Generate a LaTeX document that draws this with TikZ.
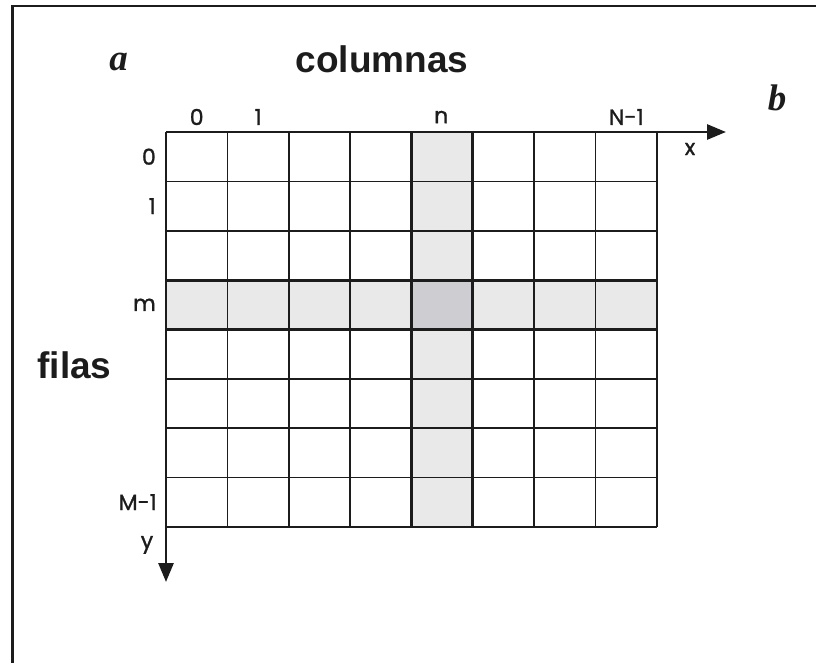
\documentclass[tikz,border=0pt]{standalone}
\usepackage{fontspec}
\setmainfont{Liberation Sans}
\newfontfamily\geofont[FakeBold=1.2]{Poppins}
\newfontfamily\itfont{Liberation Serif}
\usetikzlibrary{arrows.meta,positioning}
\definecolor{Ink}{HTML}{1C1C1C}
\definecolor{Band}{HTML}{E9E9E9}
\definecolor{Cross}{HTML}{CDCDD2}

\tikzset{
  gridline/.style={Ink, line width=1.6pt},
  boldline/.style={Ink, line width=3pt},
  axis/.style={Ink, line width=2.8pt, -{Triangle[length=19pt,width=15pt]}},
  idx/.style={font=\geofont\fontsize{22}{22}\selectfont, inner sep=0pt},
  title/.style={font=\fontsize{37}{37}\selectfont\bfseries, inner sep=0pt, anchor=base},
  tag/.style={font=\itfont\fontsize{37}{37}\selectfont\bfseries\itshape, inner sep=0pt, anchor=base}
}

\begin{document}
\begin{tikzpicture}[x=1pt, y=-1pt, every node/.style={text=Ink}]
  \useasboundingbox (0,0) rectangle (816,663);
  % frame (only top and left edges show)
  \coordinate (tl) at (12.5,6);
  \coordinate (tr) at (816,6);
  \coordinate (bl) at (12.5,663);
  \draw[Ink, line width=2.4pt] (bl) -- (tl) -- (tr);

  % shaded row m and column n
  \fill[Band] (166,280.125) rectangle (657,329.5);
  \fill[Band] (411.5,132) rectangle (472.875,527);
  \fill[Cross] (411.5,280.125) rectangle (472.875,329.5);

  % grid 8 x 8
  \foreach \i in {0,...,8}{
    \draw[gridline] ({166+\i*61.375},132) -- ({166+\i*61.375},527);
    \draw[gridline] (166,{132+\i*49.375}) -- (657,{132+\i*49.375});
  }
  \foreach \i in {4,5}
    \draw[boldline] ({166+\i*61.375},132) -- ({166+\i*61.375},527);
  \foreach \i in {3,4}
    \draw[boldline] (166,{132+\i*49.375}) -- (657,{132+\i*49.375});

  % axes
  \coordinate (o) at (166,132);
  \coordinate (xs) at (377,132);
  \coordinate (xe) at (726,132);
  \coordinate (ye) at (166,582);
  \draw[axis] (xs) -- (xe);
  \draw[axis] (o) -- (ye);
  \node[idx] (xl) at (690,149) {x};
  \node[idx] (yl) at (147,545) {y};

  % column indices
  \node[idx] (c0) at (196.7,117) {0};
  \node[idx] (c1) at (258.1,117) {1};
  \node[idx] (cn) at (441.2,117) {n};
  \node[idx] (cN) at (626.3,117) {N-1};

  % row indices
  \node[idx, anchor=east] (r0) at (156,156.7) {0};
  \node[idx, anchor=east] (r1) at (156,206.1) {1};
  \node[idx, anchor=east] (rm) at (156,304.8) {m};
  \node[idx, anchor=east] (rM) at (157,502.1) {M-1};

  % titles
  \node[title] (cols) at (382,73) {columnas};
  \node[title] (rows) at (74.5,378) {filas};
  \node[tag] (ta) at (118.5,71) {a};
  \node[tag] (tb) at (777,111) {b};
\end{tikzpicture}
\end{document}
